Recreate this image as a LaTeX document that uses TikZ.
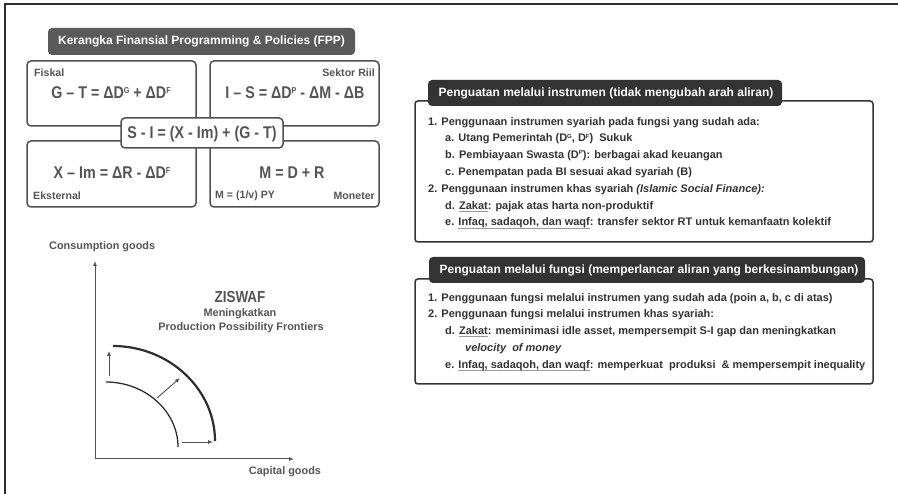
\documentclass[tikz,border=0pt]{standalone}
\usepackage{fontspec}
\setmainfont{Liberation Sans}
\newfontfamily\eqfont{Liberation Sans}[FakeStretch=0.84]
\usetikzlibrary{arrows.meta}

\definecolor{frameink}{HTML}{2E2E2E}
\definecolor{boxline}{HTML}{505050}
\definecolor{barlight}{HTML}{5A5A5A}
\definecolor{bardark}{HTML}{333333}
\definecolor{eqink}{HTML}{555555}
\definecolor{textink}{HTML}{333333}
\definecolor{ulgray}{HTML}{9A9A9A}

% grey underline under a word
\newcommand\gul[1]{\leavevmode\setbox0\hbox{#1}\rlap{\textcolor{ulgray}{\raisebox{-2.2pt}{\rule{\wd0}{0.6pt}}}}\box0}
% small raised letters in the balance equations and in the lists
\newcommand\eqsup[1]{\raisebox{5.5pt}{\fontsize{8.5}{8.5}\selectfont #1}}
\newcommand\lsup[1]{\raisebox{3.8pt}{\fontsize{6}{6}\selectfont #1}}

\begin{document}
\begin{tikzpicture}[x=1pt,y=-1pt,
  fppbox/.style={draw=boxline,line width=1.5pt,rounded corners=4pt},
  eqtext/.style={font=\eqfont\bfseries\fontsize{17}{19}\selectfont,text=eqink,inner sep=0pt},
  tagtext/.style={font=\bfseries\fontsize{10.6}{12}\selectfont,text=eqink,inner sep=0pt},
  titlebar/.style={rounded corners=3.5pt,text=white,font=\bfseries\fontsize{12}{14}\selectfont},
  listbox/.style={draw=bardark,line width=1.5pt,rounded corners=3pt},
  listtext/.style={font=\bfseries\fontsize{11}{16.8}\selectfont,text=textink,inner sep=0pt,align=left,anchor=north west},
  axis/.style={draw=boxline,line width=1pt,-{Latex[length=5pt,width=4pt]}},
  shiftarrow/.style={draw=boxline,line width=0.9pt,-{Latex[length=5pt,width=4pt]}},
  ppf/.style={draw=frameink,line width=1.3pt},
  ppfout/.style={draw=frameink,line width=2.2pt},
  gtext/.style={font=\bfseries\fontsize{10.9}{12}\selectfont,text=eqink,inner sep=0pt}]

\useasboundingbox (0,0) rectangle (898,494);
\fill[white] (0,0) rectangle (898,494);

% outer frame (top and left edges)
\draw[frameink,line width=2pt] (5,494) -- (5,4) -- (898,4);

% ---------- FPP framework ----------
\fill[barlight,rounded corners=4pt] (48,28) rectangle (355,55);
\node[titlebar] (fpptitle) at (201.5,41.5) {Kerangka Finansial Programming \& Policies (FPP)};

\draw[fppbox] (27,61) rectangle (196,126);
\draw[fppbox] (210,61) rectangle (379,126);
\draw[fppbox] (27,141) rectangle (196,207);
\draw[fppbox] (210,141) rectangle (379,207);

\node[tagtext,anchor=west] (fiskal) at (34,73) {Fiskal};
\node[tagtext,anchor=east] (riil) at (375,73) {Sektor Riil};
\node[tagtext,anchor=west] (eksternal) at (33,196) {Eksternal};
\node[tagtext,anchor=west] (qtm) at (215,196) {M = (1/v) PY};
\node[tagtext,anchor=east] (moneter) at (375,196) {Moneter};

\node[eqtext] (eqfiskal) at (111,93) {G – T = ΔD\eqsup{G} + ΔD\eqsup{F}};
\node[eqtext] (eqriil) at (295,93) {I – S = ΔD\eqsup{P} - ΔM - ΔB};
\node[eqtext] (eqeks) at (112,173) {X – Im = ΔR - ΔD\eqsup{F}};
\node[eqtext] (eqmon) at (292,173) {M = D + R};

\draw[fppbox,fill=white] (121,118) rectangle (283,148);
\node[eqtext] (eqcenter) at (202,134) {S - I = (X - Im) + (G - T)};

% ---------- strengthening through instruments ----------
\draw[listbox] (415,101) rectangle (873,242);
\fill[bardark,rounded corners=4pt] (428,80) rectangle (782,106);
\node[titlebar] (instrtitle) at (606,93) {Penguatan melalui instrumen (tidak mengubah arah aliran)};
\node[listtext] (instrlist) at (428,117) {%
1. Penggunaan instrumen syariah pada fungsi yang sudah ada:\\
\hspace*{17pt}a. Utang Pemerintah (D\lsup{G}, D\lsup{F})\ \ Sukuk\\
\hspace*{17pt}b. Pembiayaan Swasta (D\lsup{P}): berbagai akad keuangan\\
\hspace*{17pt}c. Penempatan pada BI sesuai akad syariah (B)\\
2. Penggunaan instrumen khas syariah \textit{(Islamic Social Finance):}\\
\hspace*{17pt}d. \gul{Zakat}: pajak atas harta non-produktif\\
\hspace*{17pt}e. \gul{Infaq, sadaqoh, dan waqf}: transfer sektor RT untuk kemanfaatn kolektif};

% ---------- strengthening through functions ----------
\draw[listbox] (415,279) rectangle (873,384);
\fill[bardark,rounded corners=4pt] (429,257) rectangle (865,283);
\node[titlebar] (functitle) at (649,270) {Penguatan melalui fungsi (memperlancar aliran yang berkesinambungan)};
\node[listtext] (funclist) at (428,293) {%
1. Penggunaan fungsi melalui instrumen yang sudah ada (poin a, b, c di atas)\\
2. Penggunaan fungsi melalui instrumen khas syariah:\\
\hspace*{17pt}d. \gul{Zakat}: meminimasi idle asset, mempersempit S-I gap dan meningkatkan\\
\hspace*{37pt}\textit{velocity\ \ of money}\\
\hspace*{17pt}e. \gul{Infaq, sadaqoh, dan waqf}: memperkuat\ \ produksi\ \ \& mempersempit inequality};

% ---------- production possibility frontier ----------
\coordinate (origin) at (95,459);
\coordinate (ytip) at (95,261);
\coordinate (xtip) at (294,459);
\draw[axis] (origin) -- (ytip);
\draw[axis] (origin) -- (xtip);
\node[gtext,anchor=west] (ylabel) at (49,247) {Consumption goods};
\node[gtext] (xlabel) at (285,472) {Capital goods};

\node[font=\eqfont\bfseries\fontsize{16}{18}\selectfont,text=eqink,inner sep=0pt] (ziswaf) at (240,297) {ZISWAF};
\node[gtext] (ppfa) at (240,313.5) {Meningkatkan};
\node[gtext] (ppfb) at (241,327.5) {Production Possibility Frontiers};

\coordinate (inA) at (106,382);
\coordinate (inB) at (178,447);
\coordinate (outA) at (113,346);
\coordinate (outB) at (215,441);
\draw[ppf] (inA) .. controls (145,382) and (178,411) .. (inB);
\draw[ppfout] (outA) .. controls (169,346) and (215,389) .. (outB);

\coordinate (upS) at (109,376);
\coordinate (upE) at (109,351);
\coordinate (diS) at (157,398);
\coordinate (diE) at (180,378);
\coordinate (rtS) at (182,442);
\coordinate (rtE) at (213,442);
\draw[shiftarrow] (upS) -- (upE);
\draw[shiftarrow] (diS) -- (diE);
\draw[shiftarrow] (rtS) -- (rtE);

\end{tikzpicture}
\end{document}
